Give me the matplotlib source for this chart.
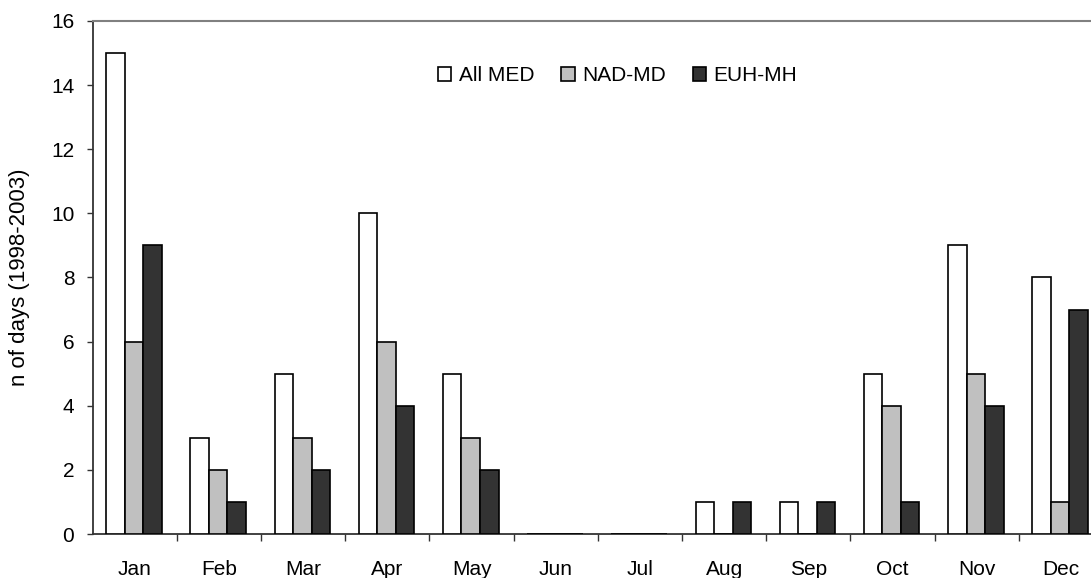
import matplotlib
matplotlib.use('Agg')
import matplotlib.pyplot as plt
import numpy as np
from matplotlib.patches import Patch

plt.rcParams['font.family'] = ['Liberation Sans', 'DejaVu Sans']

months = ['Jan', 'Feb', 'Mar', 'Apr', 'May', 'Jun', 'Jul', 'Aug', 'Sep', 'Oct', 'Nov', 'Dec']
all_med = [15, 3, 5, 10, 5, 0, 0, 1, 1, 5, 9, 8]
nad_md = [6, 2, 3, 6, 3, 0, 0, 0, 0, 4, 5, 1]
euh_mh = [9, 1, 2, 4, 2, 0, 0, 1, 1, 1, 4, 7]
series_names = ['All MED', 'NAD-MD', 'EUH-MH']
colors = ['#ffffff', '#c0c0c0', '#333333']

fig = plt.figure(figsize=(10.91, 5.78), dpi=100)
# plot area runs past the right edge of the image, like the original
ax = fig.add_axes([0.085, 0.0761, 0.926, 0.8876])

x = np.arange(len(months))
w = 0.22
for k, vals in enumerate([all_med, nad_md, euh_mh]):
    ax.bar(x - 0.01 + (k - 1) * w, vals, w, color=colors[k],
           edgecolor='black', linewidth=1.2, zorder=3)

ax.set_xlim(-0.5, len(months) - 0.5)
ax.set_ylim(0, 16)
ax.set_yticks(np.arange(0, 17, 2))
ax.tick_params(axis='y', direction='out', length=4.3, width=1, pad=9,
               labelsize=15, color='#333333')

ax.set_xticks(x[:-1] + 0.5)
ax.set_xticklabels([])
ax.set_xticks(x, minor=True)
ax.set_xticklabels(months, minor=True)
ax.tick_params(axis='x', which='major', direction='out', length=5, width=1, color='#333333')
ax.tick_params(axis='x', which='minor', length=0, pad=19, labelsize=15)

ax.spines['left'].set_color('#333333')
ax.spines['bottom'].set_color('#333333')
ax.spines['left'].set_linewidth(1.3)
ax.spines['bottom'].set_linewidth(1.3)
ax.spines['top'].set_color('#808080')
ax.spines['top'].set_linewidth(1.5)
ax.spines['right'].set_color('#808080')

ax.set_ylabel('n of days (1998-2003)', fontsize=16)
ax.yaxis.set_label_coords(-0.062, 0.5)

handles = [Patch(facecolor=c, edgecolor='black', linewidth=1.2) for c in colors]
fig.legend(handles, series_names, loc='center', bbox_to_anchor=(0.566, 0.869),
           ncol=3, frameon=False, fontsize=15, handlelength=0.65, handleheight=0.65,
           handletextpad=0.35, columnspacing=1.3, borderpad=0)

fig.savefig('out.png', dpi=100)
